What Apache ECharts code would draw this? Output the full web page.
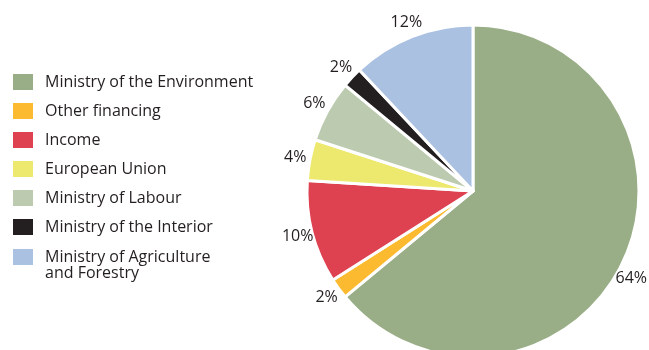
<!DOCTYPE html>
<html>
<head>
<meta charset="utf-8">
<script src="https://cdn.jsdelivr.net/npm/echarts@6/dist/echarts.min.js"></script>
<style>
  html, body { margin: 0; padding: 0; background: #fff; }
  #chart { width: 649px; height: 350px; }
</style>
</head>
<body>
<div id="chart"></div>
<script>
// Funding sources, share of total (%)
const categories = [
  'Ministry of the Environment',
  'Other financing',
  'Income',
  'European Union',
  'Ministry of Labour',
  'Ministry of the Interior',
  'Ministry of Agriculture and Forestry'
];
const shares = [64, 2, 10, 4, 6, 2, 12];
const colors = ['#99ae87', '#fbba30', '#de4150', '#ede96e', '#bccbaf', '#231f20', '#abc1e2'];

const FONT = '"Open Sans", "Noto Sans", sans-serif';
const TEXT = '#231f20';
const WIDTH = 649;
const CENTER = [473, 191];

const chart = echarts.init(document.getElementById('chart'), null, { renderer: 'canvas' });

const sliceData = categories.map((name, i) => ({
  name,
  value: shares[i],
  itemStyle: { color: colors[i] }
}));

const lastName = categories[categories.length - 1];

// Slide a percentage label along its ring until it fits inside the canvas
function keepLabelInside(params) {
  const rect = params.labelRect;
  const halfW = rect.width / 2;
  const lx = rect.x + halfW;
  const ly = rect.y + rect.height / 2;
  const maxX = WIDTH - halfW - 2;
  if (lx <= maxX) return {};
  const dist = Math.hypot(lx - CENTER[0], ly - CENTER[1]);
  const dx = maxX - CENTER[0];
  const dy = Math.sqrt(Math.max(dist * dist - dx * dx, 0)) * (ly >= CENTER[1] ? 1 : -1);
  return { x: maxX, y: CENTER[1] + dy };
}

const legendBase = {
  orient: 'vertical',
  left: 13,
  padding: 0,
  itemWidth: 20,
  itemHeight: 16,
  itemGap: 13,
  icon: 'rect',
  itemStyle: { borderWidth: 0 },
  textStyle: {
    fontFamily: FONT,
    fontSize: 16,
    color: TEXT,
    lineHeight: 16,
    padding: [0, 0, 0, 7]
  },
  selectedMode: false
};

chart.setOption({
  animation: false,
  backgroundColor: '#ffffff',
  legend: [
    Object.assign({}, legendBase, {
      top: 74,
      data: categories.slice(0, -1)
    }),
    Object.assign({}, legendBase, {
      // two-line entry; the empty first line keeps the swatch level with "Ministry of Agriculture"
      top: 233,
      data: [lastName],
      formatter: () => '\nMinistry of Agriculture\nand Forestry'
    })
  ],
  series: [
    {
      type: 'pie',
      center: CENTER,
      radius: [0, 166],
      startAngle: 90,
      clockwise: true,
      silent: true,
      label: { show: false },
      labelLine: { show: false },
      itemStyle: { borderColor: '#ffffff', borderWidth: 3 },
      data: sliceData
    },
    {
      // percentage labels, centred on a ring just outside the pie
      type: 'pie',
      center: CENTER,
      radius: [170, 186],
      startAngle: 90,
      clockwise: true,
      silent: true,
      itemStyle: { color: 'rgba(0,0,0,0)' },
      label: {
        show: true,
        position: 'inside',
        formatter: '{c}%',
        fontFamily: FONT,
        fontSize: 16,
        color: TEXT
      },
      labelLine: { show: false },
      labelLayout: keepLabelInside,
      data: categories.map((name, i) => ({ name, value: shares[i] }))
    }
  ]
});
</script>
</body>
</html>
